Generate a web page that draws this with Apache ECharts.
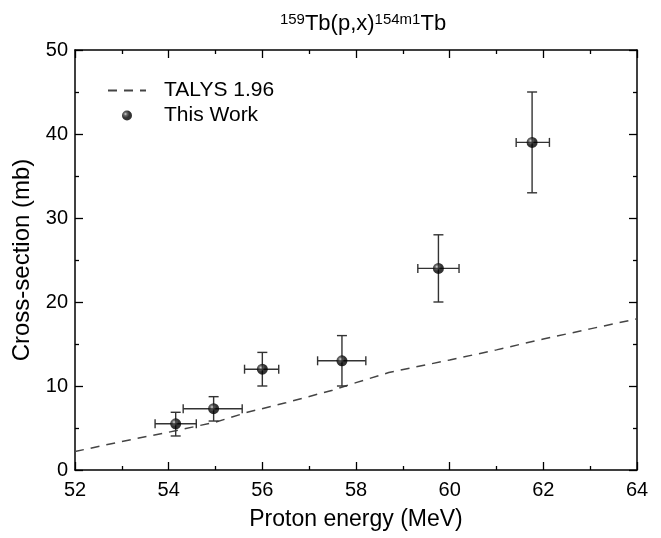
<!DOCTYPE html>
<html>
<head>
    <meta charset="UTF-8">
    <title>159Tb(p,x)154m1Tb</title>
    <script src="https://cdn.jsdelivr.net/npm/echarts/dist/echarts.min.js"></script>
    <style>
        html, body { margin: 0; padding: 0; background: #fff; }
        #main { width: 661px; height: 538px; }
    </style>
</head>
<body>
    <div id="main"></div>
    <script type="text/javascript">
        // TALYS 1.96 curve
        var talysEnergy = [52, 53, 54, 55, 55.7, 56.5, 57.5, 58, 58.7, 60, 61, 62, 63, 64];
        var talysXs = [2.2, 3.4, 4.5, 5.7, 6.9, 8.0, 9.5, 10.4, 11.6, 13.1, 14.3, 15.6, 16.8, 18.0];

        // This Work: energy, cross-section and their error limits
        var workEnergy = [54.15, 54.96, 56.0, 57.7, 59.76, 61.76];
        var workXs = [5.5, 7.3, 12.0, 13.0, 24.0, 39.0];
        var energyLow = [53.71, 54.31, 55.62, 57.18, 59.32, 61.42];
        var energyHigh = [54.59, 55.57, 56.35, 58.21, 60.2, 62.13];
        var xsLow = [4.05, 5.83, 10.0, 10.0, 20.0, 33.0];
        var xsHigh = [6.87, 8.73, 14.0, 16.0, 28.0, 45.0];

        var chart = echarts.init(document.getElementById('main'));
        var fontName = 'Liberation Sans';

        var talysData = talysEnergy.map((e, i) => [e, talysXs[i]]);
        var workData = workEnergy.map((e, i) => [e, workXs[i]]);
        var errData = workEnergy.map((e, i) => [e, workXs[i], energyLow[i], energyHigh[i], xsLow[i], xsHigh[i]]);

        var tickLine = { show: true, inside: true, length: 8, lineStyle: { color: '#000', width: 1.3 } };
        var minorTick = { show: true, splitNumber: 2, length: 4, lineStyle: { color: '#000', width: 1.3 } };
        var axisLine = { show: true, onZero: false, lineStyle: { color: '#000', width: 1.5 } };

        function renderErr(params, api) {
            var c = api.coord([api.value(0), api.value(1)]);
            var xl = api.coord([api.value(2), api.value(1)]);
            var xh = api.coord([api.value(3), api.value(1)]);
            var yl = api.coord([api.value(0), api.value(4)]);
            var yh = api.coord([api.value(0), api.value(5)]);
            var hcap = 4.5, vcap = 5;
            var st = { stroke: '#333', lineWidth: 1.4 };
            return {
                type: 'group',
                children: [
                    { type: 'line', shape: { x1: xl[0], y1: c[1], x2: xh[0], y2: c[1] }, style: st },
                    { type: 'line', shape: { x1: xl[0], y1: c[1] - hcap, x2: xl[0], y2: c[1] + hcap }, style: st },
                    { type: 'line', shape: { x1: xh[0], y1: c[1] - hcap, x2: xh[0], y2: c[1] + hcap }, style: st },
                    { type: 'line', shape: { x1: c[0], y1: yl[1], x2: c[0], y2: yh[1] }, style: st },
                    { type: 'line', shape: { x1: c[0] - vcap, y1: yl[1], x2: c[0] + vcap, y2: yl[1] }, style: st },
                    { type: 'line', shape: { x1: c[0] - vcap, y1: yh[1], x2: c[0] + vcap, y2: yh[1] }, style: st }
                ]
            };
        }

        var ball = new echarts.graphic.RadialGradient(0.35, 0.35, 0.65, [
            { offset: 0, color: '#cfcfcf' },
            { offset: 0.25, color: '#444' },
            { offset: 0.6, color: '#000' },
            { offset: 1, color: '#000' }
        ]);

        var option = {
            backgroundColor: '#fff',
            animation: false,
            textStyle: { fontFamily: fontName },
            title: {
                text: '{sup|159}Tb(p,x){sup|154m1}Tb',
                left: 358,
                textAlign: 'center',
                top: 7,
                textStyle: {
                    fontFamily: fontName,
                    fontSize: 22,
                    fontWeight: 'normal',
                    color: '#000',
                    rich: {
                        sup: { fontFamily: fontName, fontSize: 15, color: '#000', verticalAlign: 'top', padding: [0, 0, 9, 0] }
                    }
                }
            },
            legend: {
                orient: 'vertical',
                left: 102,
                top: 75,
                itemWidth: 38,
                itemHeight: 10,
                itemGap: 4,
                textStyle: { fontFamily: fontName, fontSize: 21, color: '#000', padding: [0, 0, 0, 13] },
                data: [
                    { name: 'TALYS 1.96', itemStyle: { opacity: 0 } },
                    { name: 'This Work', itemStyle: { color: ball } }
                ]
            },
            grid: { left: 75, right: 24, top: 50, bottom: 68, containLabel: false },
            xAxis: [
                {
                    type: 'value', min: 52, max: 64, interval: 2,
                    name: 'Proton energy (MeV)', nameLocation: 'middle', nameGap: 38,
                    nameTextStyle: { fontFamily: fontName, fontSize: 23, color: '#000' },
                    axisLine: axisLine, axisTick: tickLine, minorTick: minorTick,
                    axisLabel: { fontFamily: fontName, fontSize: 20, color: '#000', margin: 10 },
                    splitLine: { show: false }
                },
                {
                    type: 'value', position: 'top', min: 52, max: 64, interval: 2,
                    axisLine: axisLine, axisTick: tickLine, minorTick: minorTick,
                    axisLabel: { show: false }, splitLine: { show: false }
                }
            ],
            yAxis: [
                {
                    type: 'value', min: 0, max: 50, interval: 10,
                    name: 'Cross-section (mb)', nameLocation: 'middle', nameGap: 33,
                    nameTextStyle: { fontFamily: fontName, fontSize: 24, color: '#000' },
                    axisLine: axisLine, axisTick: tickLine, minorTick: minorTick,
                    axisLabel: { fontFamily: fontName, fontSize: 20, color: '#000', margin: 7 },
                    splitLine: { show: false }
                },
                {
                    type: 'value', position: 'right', min: 0, max: 50, interval: 10,
                    axisLine: axisLine, axisTick: tickLine, minorTick: minorTick,
                    axisLabel: { show: false }, splitLine: { show: false }
                }
            ],
            series: [
                {
                    name: 'TALYS 1.96',
                    type: 'line',
                    data: talysData,
                    symbol: 'none',
                    lineStyle: { color: '#444', width: 1.5, type: [9, 7] },
                    itemStyle: { color: '#444' },
                    z: 2
                },
                {
                    name: 'errors',
                    type: 'custom',
                    data: errData,
                    renderItem: renderErr,
                    encode: { x: [0, 2, 3], y: [1, 4, 5] },
                    z: 3
                },
                {
                    name: 'This Work',
                    type: 'scatter',
                    data: workData,
                    symbolSize: 11,
                    itemStyle: { color: ball },
                    z: 4
                }
            ]
        };

        chart.setOption(option);
    </script>
</body>
</html>
